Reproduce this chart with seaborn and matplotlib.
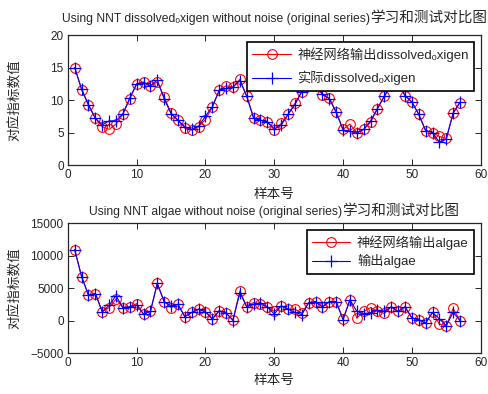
import numpy as np
import pandas as pd
import matplotlib
matplotlib.use('Agg')
import matplotlib.pyplot as plt
import seaborn as sns

# sample index 1..57
samples = list(range(1, 58))

# dissolved oxygen: network output (red) and actual (blue)
do_pred = [15.0, 11.6, 9.2, 7.2, 5.9, 5.5, 6.3, 7.8, 10.2, 12.5,
           12.8, 12.1, 12.8, 10.5, 8.0, 6.9, 5.7, 5.4, 5.9, 7.0,
           8.9, 11.5, 12.2, 12.0, 13.2, 10.6, 7.3, 6.9, 6.7, 5.4,
           6.4, 7.8, 9.5, 11.3, 12.6, 12.3, 10.8, 10.3, 8.2, 5.5,
           6.3, 5.0, 5.5, 6.6, 8.7, 10.6, 12.3, 12.6, 10.7, 9.7,
           7.8, 5.3, 5.0, 4.4, 4.1, 8.0, 9.6]
do_real = [15.0, 11.7, 9.3, 7.2, 6.2, 6.8, 6.8, 7.9, 10.3, 12.5,
           12.7, 12.2, 13.1, 10.2, 7.9, 6.9, 5.9, 5.5, 6.0, 7.5,
           9.0, 11.5, 11.8, 12.0, 13.0, 10.6, 7.2, 6.9, 6.6, 5.6,
           6.1, 7.8, 9.3, 11.3, 12.6, 12.3, 10.9, 10.2, 8.1, 5.4,
           5.2, 4.9, 5.5, 6.8, 8.7, 10.6, 12.3, 12.6, 10.7, 9.7,
           7.8, 5.3, 5.0, 3.5, 4.0, 8.0, 9.7]

# algae: network output (red) and actual (blue)
algae_pred = [10900, 6750, 3900, 4150, 1350, 2000, 3300, 2000, 2100, 2600,
              1000, 1400, 5700, 2900, 2000, 2500, 600, 1250, 1750, 1350,
              300, 1500, 1150, 100, 4550, 2100, 2750, 2500, 2100, 1400,
              2250, 1750, 1750, 1100, 2750, 2900, 2100, 2900, 2900, 250,
              3150, 350, 1400, 2000, 1400, 1100, 2100, 1400, 2100, 400,
              100, -400, 1250, -550, -800, 1850, 0]
algae_real = [10900, 6750, 3900, 4150, 1350, 2350, 3800, 2000, 2100, 2350,
              1000, 1400, 5700, 2900, 2250, 2500, 600, 1250, 1750, 1350,
              200, 1500, 1150, 0, 4300, 2100, 2500, 2750, 2100, 1000,
              2250, 1750, 1250, 900, 2750, 2900, 2100, 2900, 2900, 100,
              3200, 1400, 1050, 1200, 1600, 1400, 2100, 1400, 2100, 400,
              100, -400, 1250, 250, -800, 1250, 0]

sns.set_style('ticks')
# Latin in Arial-like font, subscript o from DejaVu, CJK from Noto
plt.rcParams['font.family'] = ['Liberation Sans', 'DejaVu Sans', 'Noto Sans CJK SC']

fig = plt.figure(figsize=(4.88, 3.94), dpi=100)
ax1 = fig.add_axes([0.139, 0.581, 0.846, 0.330])
ax2 = fig.add_axes([0.139, 0.104, 0.846, 0.330])

df_do = pd.DataFrame({'x': samples, 'pred': do_pred, 'real': do_real})
df_al = pd.DataFrame({'x': samples, 'pred': algae_pred, 'real': algae_real})


def mixed_title(ax, latin, cjk, lift_px):
    # latin part smaller than the CJK part, like the original
    r = fig.canvas.get_renderer()
    W, H = fig.bbox.width, fig.bbox.height
    y = (ax.bbox.y1 + lift_px) / H
    t1 = fig.text(0, y, latin, fontsize=8.7, ha='left', va='baseline')
    t2 = fig.text(0, y, cjk, fontsize=10.5, ha='left', va='baseline')
    w1 = t1.get_window_extent(r).width
    w2 = t2.get_window_extent(r).width
    x0 = ax.bbox.x0 + ax.bbox.width / 2 - (w1 + w2) / 2
    t1.set_x(x0 / W)
    t2.set_x((x0 + w1) / W)


def draw(ax, df, lab_pred, lab_real, ylim, yticks, xlab_y, lspace):
    sns.lineplot(data=df, x='x', y='pred', ax=ax, color='red', marker='o',
                 markersize=7, markerfacecolor='none', markeredgecolor='red',
                 markeredgewidth=0.8, linewidth=0.8, label=lab_pred)
    sns.lineplot(data=df, x='x', y='real', ax=ax, color='blue', marker='+',
                 markersize=9, markeredgecolor='blue', markeredgewidth=0.9,
                 linewidth=0.8, label=lab_real)
    ax.set_xlim(0, 60)
    ax.set_xticks(range(0, 61, 10))
    ax.set_ylim(*ylim)
    ax.set_yticks(yticks)
    ax.tick_params(direction='in', top=True, right=True, length=4,
                   labelsize=8.5, width=0.7, pad=3)
    for s in ax.spines.values():
        s.set_visible(True)
        s.set_linewidth(0.9)
    ax.set_xlabel('样本号', fontsize=9.8, va='top')
    ax.xaxis.set_label_coords(0.5, xlab_y)
    ax.set_ylabel('对应指标数值', fontsize=9.8)
    ax.yaxis.set_label_coords(-0.11, 0.5)
    leg = ax.legend(loc='upper right', fontsize=9.5, frameon=True, fancybox=False,
                    handlelength=2.9, borderpad=0.4, labelspacing=lspace,
                    borderaxespad=0.5, handletextpad=0.5)
    leg.get_frame().set_edgecolor('black')
    leg.get_frame().set_linewidth(1.2)
    leg.get_frame().set_alpha(1)


draw(ax1, df_do, '神经网络输出dissolvedₒxigen', '实际dissolvedₒxigen',
     (0, 20), [0, 5, 10, 15, 20], -0.165, 0.7)
draw(ax2, df_al, '神经网络输出algae', '输出algae',
     (-5000, 15000), [-5000, 0, 5000, 10000, 15000], -0.15, 0.35)

mixed_title(ax1, 'Using NNT dissolvedₒxigen without noise (original series)',
            '学习和测试对比图', 13)
mixed_title(ax2, 'Using NNT algae without noise (original series)',
            '学习和测试对比图', 8)

fig.savefig('out.png', dpi=100)
